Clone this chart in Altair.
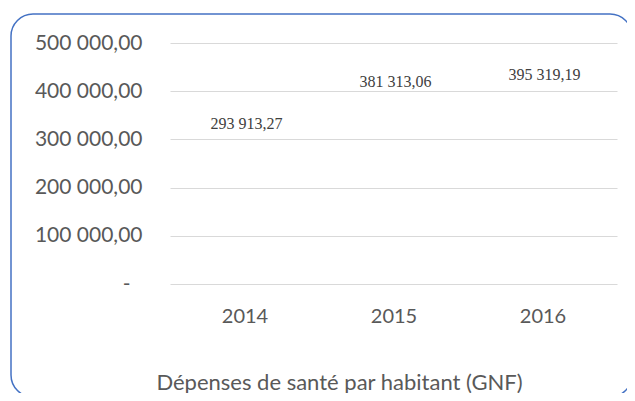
import altair as alt
import pandas as pd

years = ["2014", "2015", "2016"]
values = [293913.27, 381313.06, 395319.19]
y_ticks = [0, 100000, 200000, 300000, 400000, 500000]
title_text = "Dépenses de santé par habitant (GNF)"

def fr(v):
    return f"{v:,.2f}".replace(",", " ").replace(".", ",")

df = pd.DataFrame({"year": years, "value": values, "label": [fr(v) for v in values]})

W, H = 447, 241

base = alt.Chart(df)

border = alt.Chart(pd.DataFrame({"k": [0]})).mark_rect(
    filled=False, stroke="#4472C4", strokeWidth=1.5, cornerRadius=22, clip=False
).encode(
    x=alt.value(-159), x2=alt.value(462),
    y=alt.value(-29), y2=alt.value(354),
)

labels = base.mark_text(
    font="Liberation Serif", fontSize=16, color="#404040",
    baseline="alphabetic", dy=-13, dx=2
).encode(
    x=alt.X("year:N", sort=years,
            scale=alt.Scale(type="point", padding=0.5),
            axis=alt.Axis(title=title_text, labelAngle=0, domain=False, ticks=False,
                          grid=False, labelFont="Lato", labelFontSize=20,
                          labelColor="#595959", labelPadding=22,
                          titleFont="Lato", titleFontSize=22, titleFontWeight="normal",
                          titleColor="#595959", titleX=169, titleY=98,
                          titleAlign="center", titleBaseline="middle")),
    y=alt.Y("value:Q",
            scale=alt.Scale(domain=[0, 500000], nice=False),
            axis=alt.Axis(title=None, values=y_ticks, domain=False, ticks=False,
                          grid=True, gridColor="#D9D9D9", gridWidth=1,
                          labelFont="Lato", labelFontSize=21,
                          labelColor="#595959",
                          labelPadding={"condition": {"test": "datum.value === 0", "value": 40}, "value": 28},
                          labelExpr="datum.value == 0 ? '-' : replace(replace(format(datum.value, ',.2f'), regexp(',', 'g'), ' '), '.', ',')")),
    text="label:N",
)

chart = alt.layer(border, labels).properties(
    width=W, height=H,
    autosize=alt.AutoSizeParams(type="none"),
    padding={"left": 162, "top": 35, "right": 10, "bottom": 109},
).configure(
    background="white",
    view=alt.ViewConfig(stroke="transparent", strokeWidth=0),
)

chart.save("out.html", embed_options={"renderer": "svg", "actions": False})
